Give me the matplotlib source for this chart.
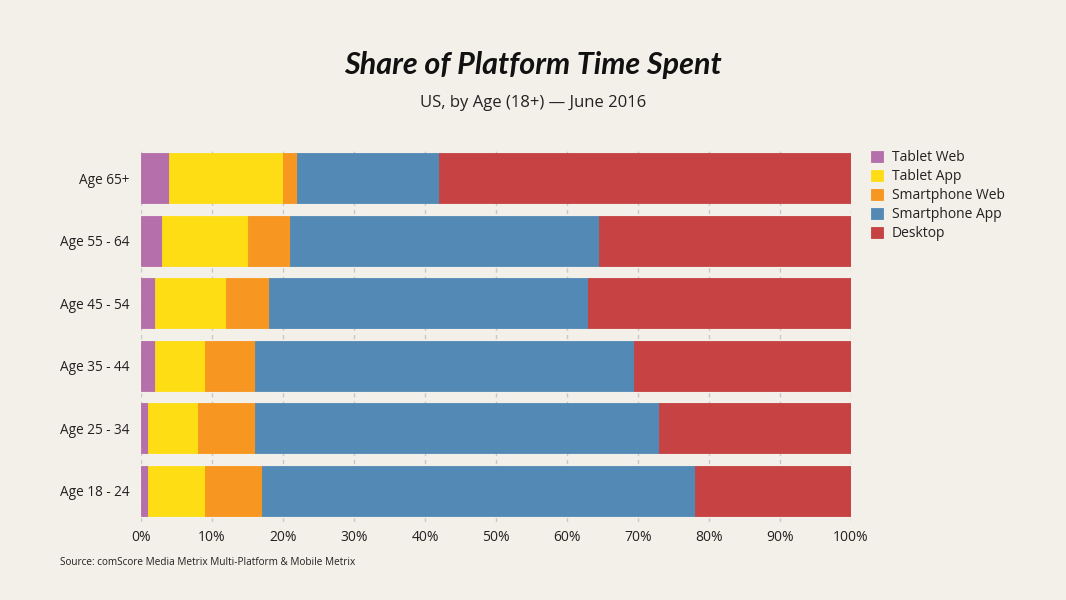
import matplotlib
matplotlib.use("Agg")
import matplotlib.pyplot as plt
import numpy as np

categories = ["Age 65+", "Age 55 - 64", "Age 45 - 54", "Age 35 - 44", "Age 25 - 34", "Age 18 - 24"]
series_names = ["Tablet Web", "Tablet App", "Smartphone Web", "Smartphone App", "Desktop"]
tablet_web = [4, 3, 2, 2, 1, 1]
tablet_app = [16, 12, 10, 7, 7, 8]
smartphone_web = [2, 6, 6, 7, 8, 8]
smartphone_app = [20, 43.5, 45, 53.5, 57, 61]
desktop = [58, 35.5, 37, 30.5, 27, 22]
colors = ["#b56fab", "#ffdd15", "#f79620", "#5289b5", "#c64243"]
x_ticks = [0, 10, 20, 30, 40, 50, 60, 70, 80, 90, 100]

bg = "#f3efe9"
plt.rcParams['font.family'] = ['Open Sans', 'DejaVu Sans']

fig = plt.figure(figsize=(10.66, 6), dpi=100, facecolor=bg)
ax = fig.add_axes([0.1323, 0.13, 0.666, 0.625], facecolor=bg)

data = [tablet_web, tablet_app, smartphone_web, smartphone_app, desktop]
y = np.arange(len(categories))
left = np.zeros(len(categories))
for name, vals, c in zip(series_names, data, colors):
    ax.barh(y, vals, left=left, height=0.8, color=c, edgecolor=c, linewidth=0.6,
            label=name, zorder=3)
    left += np.array(vals)

ax.set_ylim(len(categories) - 0.5, -0.5)
ax.set_xlim(0, 100)
ax.set_yticks(y)
ax.set_yticklabels(categories, fontsize=9.8, color="#222222")
ax.set_xticks(x_ticks)
ax.set_xticklabels([f"{t}%" for t in x_ticks], fontsize=10, color="#222222")
ax.tick_params(axis='both', length=0, pad=8)
ax.tick_params(axis='x', pad=6)
for s in ax.spines.values():
    s.set_visible(False)
ax.xaxis.grid(True, linestyle=(0, (3, 3)), color="#c8c8c8", linewidth=1, zorder=0)
ax.set_axisbelow(True)

leg = ax.legend(loc='upper left', bbox_to_anchor=(1.02, 1.006), frameon=False,
                fontsize=10, handlelength=0.9, handleheight=0.9, handletextpad=0.6,
                labelspacing=0.29, borderaxespad=0)
for t in leg.get_texts():
    t.set_color("#222222")

fig.text(0.5, 0.892, "Share of Platform Time Spent", ha='center', va='center',
         fontsize=22, fontweight='bold', fontstyle='italic', family=['Lato', 'DejaVu Sans'],
         color="#111111")
fig.text(0.5, 0.828, "US, by Age (18+) \u2014 June 2016", ha='center', va='center',
         fontsize=12, color="#222222")
fig.text(0.056, 0.063, "Source: comScore Media Metrix Multi-Platform & Mobile Metrix",
         ha='left', va='center', fontsize=7.2, color="#222222")

fig.savefig("out.png", dpi=100, facecolor=bg)
